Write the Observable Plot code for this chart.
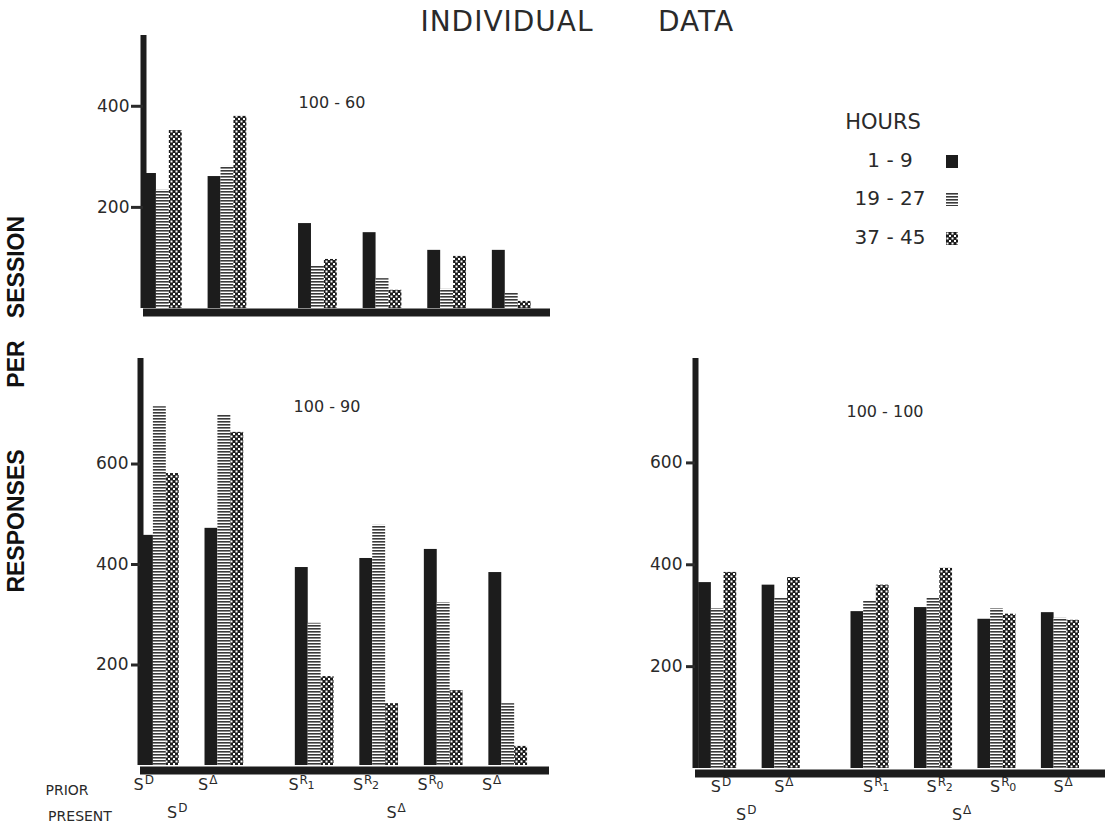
<!DOCTYPE html>
<html><head><meta charset="utf-8">
<script src="https://cdn.jsdelivr.net/npm/d3@7"></script>
<script src="https://cdn.jsdelivr.net/npm/@observablehq/plot@0.6"></script>
<style>
body{margin:0;background:#fff;}
#root{position:relative;width:1109px;height:831px;overflow:hidden;font-family:"DejaVu Sans",sans-serif;color:#2a2a2a;}
.t{position:absolute;transform:translate(-50%,-50%);white-space:nowrap;line-height:1;}
.yt{position:absolute;transform:translate(-50%,-50%) rotate(-90deg);white-space:nowrap;line-height:1;font-family:"Liberation Sans",Arial,sans-serif;font-weight:bold;font-size:23px;color:#111;}
.sw{position:absolute;}
</style></head><body>
<svg width="0" height="0" style="position:absolute">
  <defs>
    <pattern id="stripes" width="4" height="3" patternUnits="userSpaceOnUse">
      <rect width="4" height="3" fill="#fff"/>
      <rect y="0" width="4" height="1.6" fill="#3a3a3a"/>
    </pattern>
    <pattern id="dots" width="5" height="5" patternUnits="userSpaceOnUse">
      <rect width="5" height="5" fill="#1c1c1c"/>
      <rect x="0.5" y="0.5" width="2" height="2" fill="#fff"/>
      <rect x="3" y="3" width="2" height="2" fill="#fff"/>
    </pattern>
  </defs>
</svg>
<div id="root"></div>
<script>
// ---------- data ----------
const hours = ["1 - 9", "19 - 27", "37 - 45"];
const priorSup = ["D", "Δ", "R", "R", "R", "Δ"];
const priorSub = ["", "", "1", "2", "0", ""];
const presentSup = ["D", "D", "Δ", "Δ", "Δ", "Δ"];
const yTicksTop = [200, 400];
const yTicksBottom = [200, 400, 600];
const panelTitles = ["100 - 60", "100 - 90", "100 - 100"];

// responses per session, panel 100-60
const r60_h1  = [267, 261, 168, 150, 115, 115];
const r60_h19 = [234, 281, 85, 59, 38, 30];
const r60_h37 = [352, 380, 97, 36, 103, 14];
// panel 100-90
const r90_h1  = [458, 472, 394, 412, 430, 384];
const r90_h19 = [714, 698, 283, 478, 324, 123];
const r90_h37 = [581, 663, 177, 123, 149, 38];
// panel 100-100
const r100_h1  = [365, 360, 308, 316, 293, 306];
const r100_h19 = [314, 334, 328, 334, 314, 295];
const r100_h37 = [385, 375, 360, 393, 303, 291];

// ---------- layout helpers ----------
const GAP = 0.4, BAR = 0.2;
const groups = d3.range(priorSup.length);
function pos(i) {
  let changes = 0;
  for (let k = 1; k <= i; k++) if (presentSup[k] !== presentSup[k - 1]) changes++;
  return i + GAP * changes;
}
const root = document.getElementById("root");
const INK = "#1c1c1c";

function panel(o) {
  const series = o.series;
  const rows = series.flatMap((vals, j) => vals.map((v, i) => ({
    hour: hours[j], value: v, x1: pos(i) + j * BAR, x2: pos(i) + (j + 1) * BAR
  })));
  const marks = [
    Plot.rect(rows, {x1: "x1", x2: "x2", y1: 0, y2: "value", fill: "hour"}),
    Plot.ruleX([o.xDomain[0]], {y1: 0, y2: o.yMax, strokeWidth: 6, stroke: INK}),
    Plot.ruleY([0], {x1: o.xDomain[0], x2: o.xDomain[1], strokeWidth: 8, dy: o.bdy, stroke: INK}),
    Plot.axisY({ticks: o.ticks, tickSize: o.tickSize, tickPadding: o.tickPadding, strokeWidth: 3,
      fontSize: 17, label: null, tickFormat: d => String(d)})
  ];
  if (o.labels) {
    const lr = groups.map(i => ({x: pos(i) + o.labelShift, sup: priorSup[i], sub: priorSub[i]}));
    marks.push(
      Plot.text(lr, {x: "x", text: d => "S", frameAnchor: "bottom", textAnchor: "end", dy: o.ldy, fontSize: 16}),
      Plot.text(lr, {x: "x", text: "sup", frameAnchor: "bottom", textAnchor: "start", dx: 1, dy: o.ldy - 6, fontSize: 12}),
      Plot.text(lr.filter(d => d.sub), {x: "x", text: "sub", frameAnchor: "bottom", textAnchor: "start", dx: 9, dy: o.ldy - 1, fontSize: 11})
    );
    const pr = d3.groups(groups, i => presentSup[i]).map(([s, idx]) => ({x: d3.mean(idx, pos) + o.labelShift + o.presentShift, sup: s}));
    marks.push(
      Plot.text(pr, {x: "x", text: d => "S", frameAnchor: "bottom", textAnchor: "end", dy: o.ldy + 28, fontSize: 16}),
      Plot.text(pr, {x: "x", text: "sup", frameAnchor: "bottom", textAnchor: "start", dx: 1, dy: o.ldy + 22, fontSize: 12})
    );
  }
  const el = Plot.plot({
    width: o.width, height: o.height,
    marginLeft: o.ml, marginRight: o.mr, marginTop: o.mt, marginBottom: o.mb,
    x: {domain: o.xDomain, axis: null},
    y: {domain: [0, o.yMax], axis: null},
    color: {domain: hours, range: [INK, "url(#stripes)", "url(#dots)"]},
    style: {background: "none", fontFamily: "DejaVu Sans, sans-serif", color: "#2a2a2a", overflow: "visible"},
    marks
  });
  el.style.position = "absolute";
  el.style.left = o.left + "px";
  el.style.top = o.top + "px";
  root.append(el);
}

// top panel 100-60
panel({series: [r60_h1, r60_h19, r60_h37], left: 60, top: 20, width: 500, height: 310,
  ml: 83, mr: 10, mt: 15, mb: 22, xDomain: [0, 6.3], yMax: 540, bdy: 4,
  ticks: yTicksTop, tickSize: 12, tickPadding: 2, labels: false});
// bottom-left panel 100-90
panel({series: [r90_h1, r90_h19, r90_h37], left: 60, top: 340, width: 500, height: 491,
  ml: 80, mr: 11, mt: 18, mb: 66, xDomain: [0, 6.34], yMax: 810, bdy: 5,
  ticks: yTicksBottom, tickSize: 9, tickPadding: 3, labels: true, labelShift: 0.05, presentShift: 0.02, ldy: 24});
// bottom-right panel 100-100
panel({series: [r100_h1, r100_h19, r100_h37], left: 600, top: 340, width: 509, height: 491,
  ml: 95, mr: 4, mt: 18, mb: 63, xDomain: [-0.05, 6.41], yMax: 805, bdy: 5,
  ticks: yTicksBottom, tickSize: 9, tickPadding: 4, labels: true, labelShift: 0.35, presentShift: -0.1, ldy: 23});

// ---------- texts ----------
function txt(s, x, y, size, extra) {
  const d = document.createElement("div");
  d.className = "t";
  d.textContent = s;
  d.style.left = x + "px"; d.style.top = y + "px"; d.style.fontSize = size + "px";
  if (extra) Object.assign(d.style, extra);
  root.append(d);
}
txt("INDIVIDUAL", 507, 22, 28, {letterSpacing: "1px"});
txt("DATA", 696, 22, 28, {letterSpacing: "1px"});
txt(panelTitles[0], 332, 103, 16);
txt(panelTitles[1], 327, 407, 16);
txt(panelTitles[2], 885, 412, 16);
txt("PRIOR", 67, 790, 14);
txt("PRESENT", 80, 816, 14);

["RESPONSES", "PER", "SESSION"].forEach((w, k) => {
  const d = document.createElement("div");
  d.className = "yt"; d.textContent = w;
  d.style.left = "16px"; d.style.top = [521, 364, 267][k] + "px";
  root.append(d);
});

// legend
txt("HOURS", 883, 122, 21);
const legY = [160, 198, 237];
const swFill = [INK, "url(#stripes)", "url(#dots)"];
hours.forEach((h, k) => {
  txt(h, 890, legY[k], 20);
  const s = document.createElementNS("http://www.w3.org/2000/svg", "svg");
  s.setAttribute("class", "sw");
  s.setAttribute("width", 12); s.setAttribute("height", 13);
  s.style.left = "946px"; s.style.top = (legY[k] - 5) + "px";
  const r = document.createElementNS("http://www.w3.org/2000/svg", "rect");
  r.setAttribute("width", 12); r.setAttribute("height", 13); r.setAttribute("fill", swFill[k]);
  s.append(r);
  root.append(s);
});
</script>
</body></html>
